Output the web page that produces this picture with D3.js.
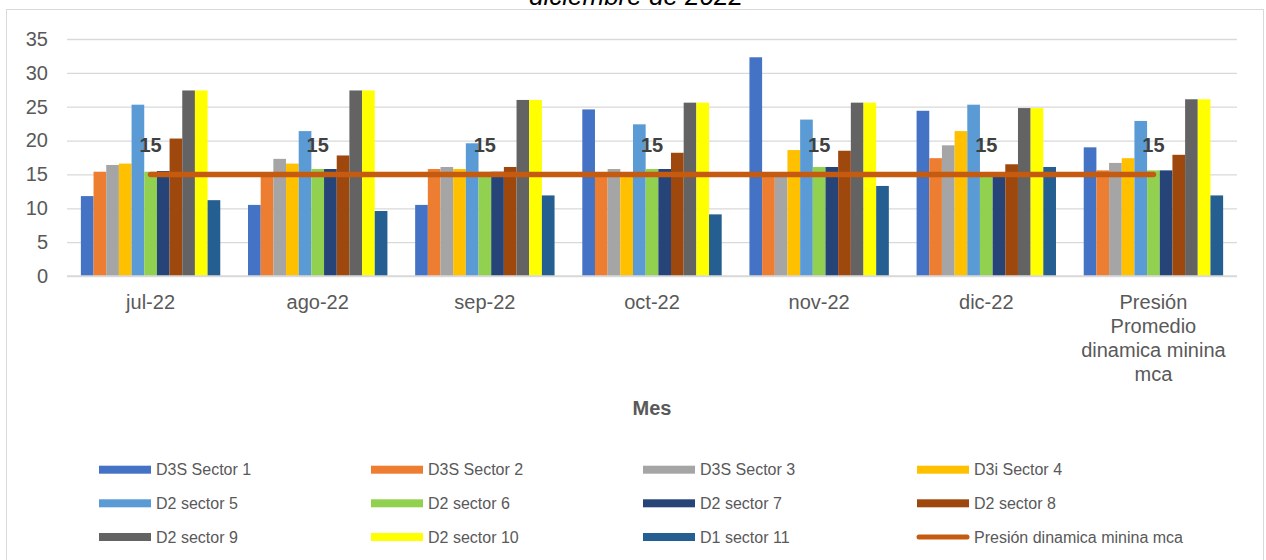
<!DOCTYPE html>
<html>
<head>
<meta charset="utf-8">
<script src="https://cdn.jsdelivr.net/npm/d3@7"></script>
<style>
  html, body { margin: 0; padding: 0; background: #fff; }
  svg { display: block; font-family: "Liberation Sans", Arial, sans-serif; }
</style>
</head>
<body>
<svg id="chart" width="1266" height="560"></svg>
<script>
// ---- data ----
const categories = ["jul-22", "ago-22", "sep-22", "oct-22", "nov-22", "dic-22", "Presión Promedio dinamica minina mca"];
const categoryLines = [["jul-22"], ["ago-22"], ["sep-22"], ["oct-22"], ["nov-22"], ["dic-22"], ["Presión", "Promedio", "dinamica minina", "mca"]];
const seriesNames = ["D3S Sector 1", "D3S Sector 2", "D3S Sector 3", "D3i Sector 4", "D2 sector 5", "D2 sector 6",
                     "D2 sector 7", "D2 sector 8", "D2 sector 9", "D2 sector 10", "D1 sector 11"];
const sector1  = [11.8, 10.5, 10.5, 24.6, 32.3, 24.4, 19.0];
const sector2  = [15.4, 15.0, 15.8, 15.0, 15.0, 17.4, 15.6];
const sector3  = [16.4, 17.3, 16.1, 15.8, 15.0, 19.3, 16.7];
const sector4  = [16.6, 16.6, 15.8, 15.3, 18.6, 21.4, 17.4];
const sector5  = [25.3, 21.4, 19.6, 22.4, 23.1, 25.3, 22.9];
const sector6  = [15.4, 15.8, 15.4, 15.8, 16.1, 15.0, 15.6];
const sector7  = [15.5, 15.8, 15.4, 15.8, 16.1, 15.0, 15.6];
const sector8  = [20.3, 17.8, 16.1, 18.2, 18.5, 16.5, 17.9];
const sector9  = [27.4, 27.4, 26.0, 25.6, 25.6, 24.8, 26.1];
const sector10 = [27.4, 27.4, 26.0, 25.6, 25.6, 24.8, 26.1];
const sector11 = [11.2, 9.6, 11.9, 9.1, 13.3, 16.1, 11.9];
const minPressure = [15, 15, 15, 15, 15, 15, 15];
const lineName = "Presión dinamica minina mca";
const yTicks = [0, 5, 10, 15, 20, 25, 30, 35];
const colors = ["#4472C4", "#ED7D31", "#A5A5A5", "#FFC000", "#5B9BD5", "#92D050",
                "#264478", "#9E480E", "#636363", "#FFFF00", "#255E91"];
const lineColor = "#C55A11";
const titleText = "diciembre de 2022";
const xTitle = "Mes";

const seriesValues = [sector1, sector2, sector3, sector4, sector5, sector6, sector7, sector8, sector9, sector10, sector11];

// ---- layout ----
const svg = d3.select("#chart");
const plot = { left: 67, right: 1237, top: 39, bottom: 276 };
const textColor = "#595959";

// chart border
svg.append("rect").attr("x", 6.5).attr("y", 9.5).attr("width", 1257).attr("height", 560)
  .attr("fill", "#fff").attr("stroke", "#D9D9D9").attr("stroke-width", 1);

// title (partially cut off at top)
svg.append("text").attr("x", 636).attr("y", 5).attr("text-anchor", "middle")
  .attr("font-size", 26).attr("font-style", "italic").attr("fill", "#000").text(titleText);

const x0 = d3.scaleBand().domain(categories).range([plot.left, plot.right]).paddingInner(0).paddingOuter(0);
const groupFrac = 0.834;
const x1 = d3.scaleBand().domain(seriesNames)
  .range([x0.bandwidth() * (1 - groupFrac) / 2, x0.bandwidth() * (1 + groupFrac) / 2]).padding(0);
const y = d3.scaleLinear().domain([0, 35]).range([plot.bottom, plot.top]);

// gridlines
const yAxis = d3.axisLeft(y).tickValues(yTicks).tickSize(-(plot.right - plot.left)).tickPadding(19).tickFormat(d3.format("d"));
const gy = svg.append("g").attr("transform", `translate(${plot.left},0)`).call(yAxis);
gy.select(".domain").remove();
gy.selectAll(".tick line").attr("stroke", "#D9D9D9").attr("stroke-width", 1.3);
gy.selectAll(".tick text").attr("fill", textColor).attr("font-size", 20)
  .attr("font-family", "Liberation Sans, Arial, sans-serif");

// bars
const groups = svg.append("g").selectAll("g").data(categories).join("g")
  .attr("transform", d => `translate(${x0(d)},0)`);
groups.each(function(cat, ci) {
  d3.select(this).selectAll("rect").data(seriesNames).join("rect")
    .attr("x", s => x1(s))
    .attr("width", x1.bandwidth())
    .attr("y", (s, si) => y(seriesValues[si][ci]))
    .attr("height", (s, si) => y(0) - y(seriesValues[si][ci]))
    .attr("fill", (s, si) => colors[si]);
});

// baseline
svg.append("line").attr("x1", plot.left).attr("x2", plot.right).attr("y1", y(0)).attr("y2", y(0))
  .attr("stroke", "#D9D9D9").attr("stroke-width", 1.3);

// line series
const cx = d => x0(d) + x0.bandwidth() / 2;
const line = d3.line().x((d, i) => cx(categories[i])).y(d => y(d));
svg.append("path").datum(minPressure).attr("d", line).attr("fill", "none")
  .attr("stroke", lineColor).attr("stroke-width", 5.5).attr("stroke-linecap", "round");

// line labels
svg.append("g").selectAll("text").data(minPressure).join("text")
  .attr("x", (d, i) => cx(categories[i]))
  .attr("y", d => y(d) - 22)
  .attr("text-anchor", "middle").attr("font-size", 20).attr("font-weight", "bold")
  .attr("fill", "#404040").text(d => d);

// x category labels
const xl = svg.append("g").selectAll("text").data(categories).join("text")
  .attr("x", d => cx(d)).attr("y", 309).attr("text-anchor", "middle")
  .attr("font-size", 20).attr("fill", textColor);
xl.each(function(d, i) {
  d3.select(this).selectAll("tspan").data(categoryLines[i]).join("tspan")
    .attr("x", cx(d)).attr("dy", (t, j) => j === 0 ? 0 : 24).text(t => t);
});

// x title
svg.append("text").attr("x", (plot.left + plot.right) / 2).attr("y", 415).attr("text-anchor", "middle")
  .attr("font-size", 20).attr("font-weight", "bold").attr("fill", textColor).text(xTitle);

// legend
const legendItems = seriesNames.map((n, i) => ({ name: n, color: colors[i], type: "bar" }))
  .concat([{ name: lineName, color: lineColor, type: "line" }]);
const colX = [99, 371, 643, 917];
const rowY = [469.7, 503.3, 537];
const lg = svg.append("g").selectAll("g").data(legendItems).join("g")
  .attr("transform", (d, i) => `translate(${colX[i % 4]},${rowY[Math.floor(i / 4)]})`);
lg.each(function(d) {
  const g = d3.select(this);
  if (d.type === "bar") {
    g.append("rect").attr("x", 0).attr("y", -4).attr("width", 52).attr("height", 8).attr("fill", d.color);
  } else {
    g.append("line").attr("x1", 2).attr("x2", 50).attr("y1", 0).attr("y2", 0)
      .attr("stroke", d.color).attr("stroke-width", 5).attr("stroke-linecap", "round");
  }
  g.append("text").attr("x", 57).attr("y", 5.5).attr("font-size", 16).attr("fill", textColor).text(d.name);
});
</script>
</body>
</html>
